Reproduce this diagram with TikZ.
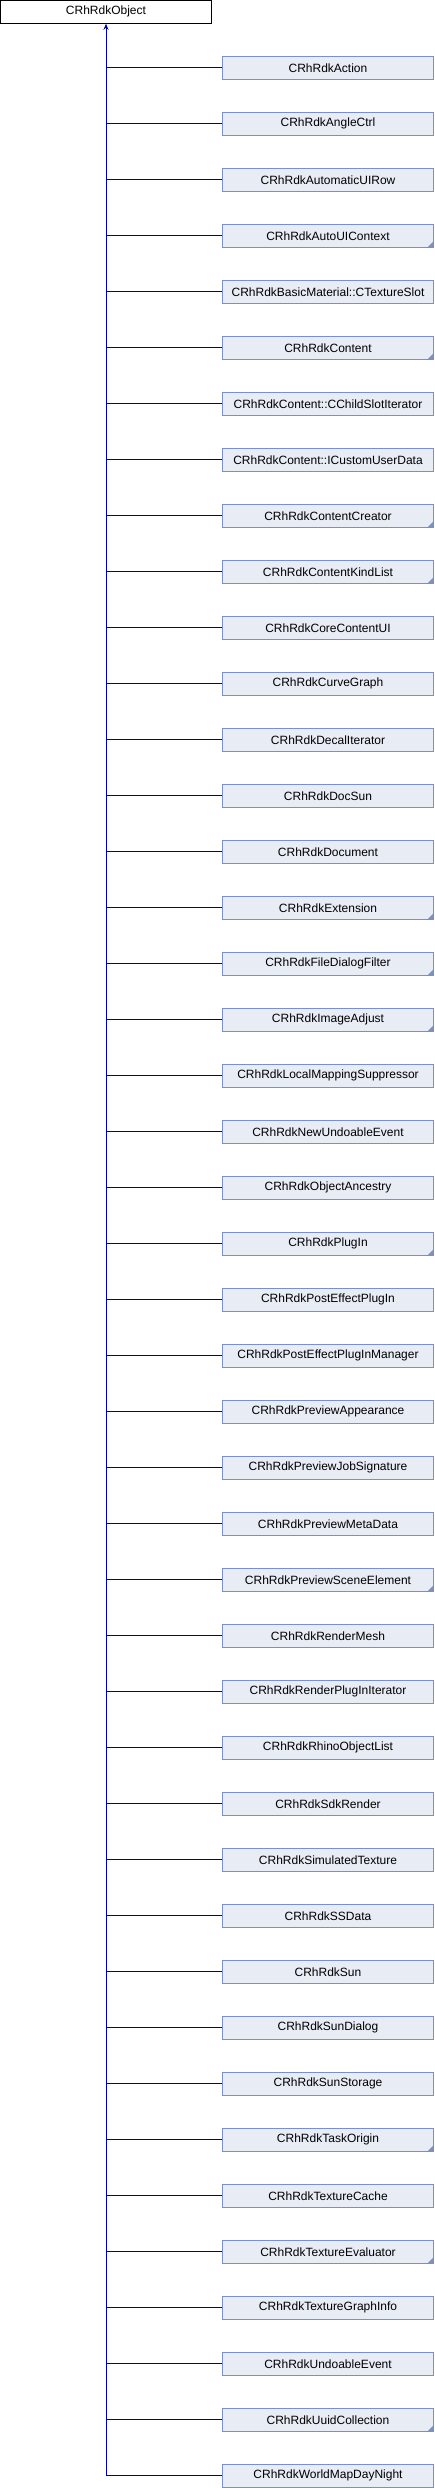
\documentclass[tikz,border=0pt]{standalone}
\usepackage{fontspec}
\setmainfont{Liberation Sans}
\usetikzlibrary{arrows.meta}
\definecolor{edgecol}{RGB}{0,0,155}
\definecolor{boxfill}{RGB}{232,236,244}
\definecolor{boxdraw}{RGB}{122,145,200}
\tikzset{
  basebox/.style={draw=black, fill=white, line width=1pt, minimum width=211pt, minimum height=23pt, inner sep=0pt, font=\fontsize{12}{14}\selectfont},
  childbox/.style={draw=boxdraw, fill=boxfill, line width=1pt, minimum width=211pt, minimum height=23pt, inner sep=0pt, font=\fontsize{12}{14}\selectfont},
  edge/.style={draw=edgecol, line width=1pt},
  moremark/.style={fill=boxdraw, draw=none}
}
\begin{document}
\begin{tikzpicture}[x=1pt,y=1pt]
\useasboundingbox (0,0) rectangle (434,-2488);
\node[basebox] (top) at (106,-11.8) {CRhRdkObject};
\foreach \name [count=\i] in {
 CRhRdkAction, CRhRdkAngleCtrl, CRhRdkAutomaticUIRow, CRhRdkAutoUIContext,
 CRhRdkBasicMaterial::CTextureSlot, CRhRdkContent, CRhRdkContent::CChildSlotIterator,
 CRhRdkContent::ICustomUserData, CRhRdkContentCreator, CRhRdkContentKindList,
 CRhRdkCoreContentUI, CRhRdkCurveGraph, CRhRdkDecalIterator, CRhRdkDocSun,
 CRhRdkDocument, CRhRdkExtension, CRhRdkFileDialogFilter, CRhRdkImageAdjust,
 CRhRdkLocalMappingSuppressor, CRhRdkNewUndoableEvent, CRhRdkObjectAncestry,
 CRhRdkPlugIn, CRhRdkPostEffectPlugIn, CRhRdkPostEffectPlugInManager,
 CRhRdkPreviewAppearance, CRhRdkPreviewJobSignature, CRhRdkPreviewMetaData,
 CRhRdkPreviewSceneElement, CRhRdkRenderMesh, CRhRdkRenderPlugInIterator,
 CRhRdkRhinoObjectList, CRhRdkSdkRender, CRhRdkSimulatedTexture, CRhRdkSSData,
 CRhRdkSun, CRhRdkSunDialog, CRhRdkSunStorage, CRhRdkTaskOrigin,
 CRhRdkTextureCache, CRhRdkTextureEvaluator, CRhRdkTextureGraphInfo,
 CRhRdkUndoableEvent, CRhRdkUuidCollection, CRhRdkWorldMapDayNight} {
  \node[childbox] (c\i) at (328,{-67.8-56*(\i-1)}) {\name};
  \draw[edge] (c\i.west) -- (c\i.west -| top.south);
}
\foreach \i in {4,6,9,10,16,17,18,22,28,38,40,43} {
  \fill[moremark] ([xshift=-0.5pt,yshift=0.5pt]c\i.south east) -- ++(0,6) -- ++(-6,-6) -- cycle;
}
\coordinate (trunk) at (c44.west -| top.south);
\draw[edge, -{Stealth[length=6pt,width=5pt]}] (trunk) -- (top.south);
\end{tikzpicture}
\end{document}
